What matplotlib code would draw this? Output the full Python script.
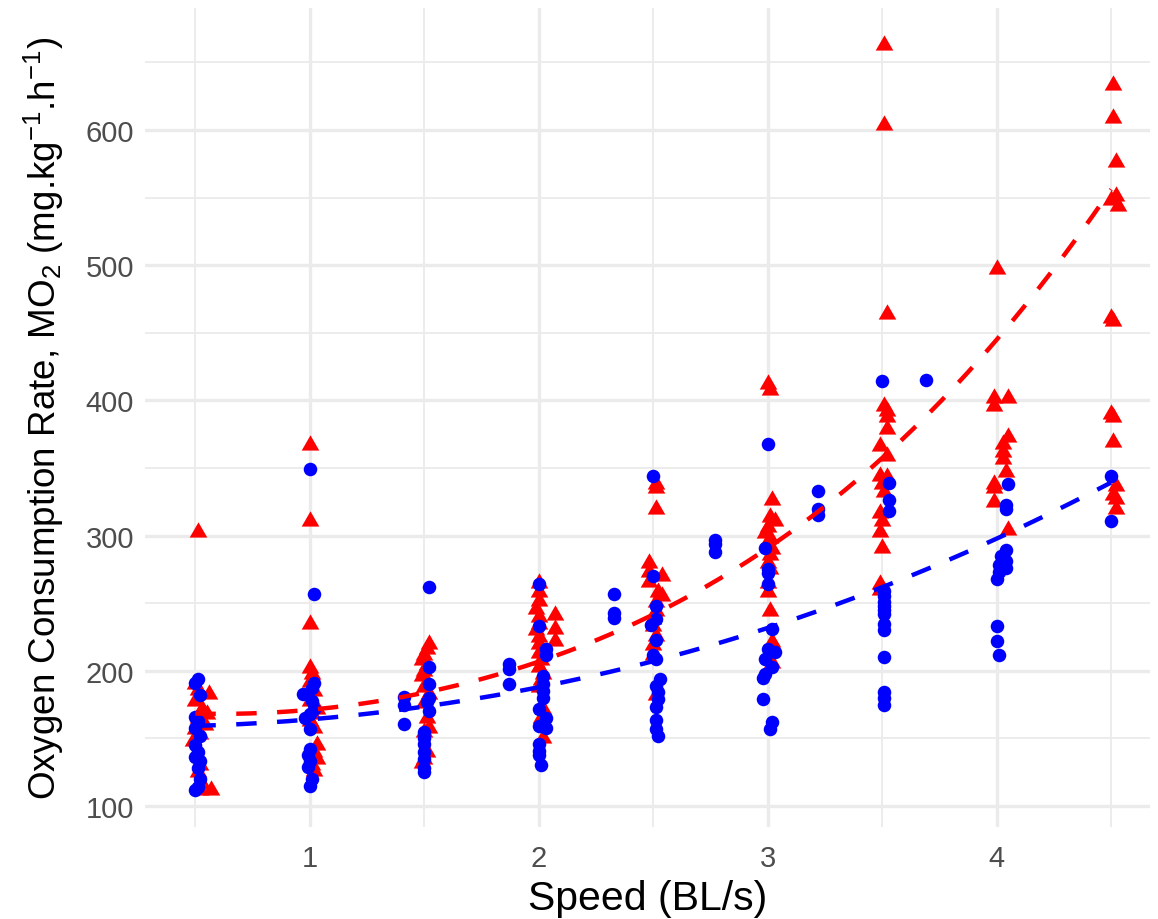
import numpy as np
import matplotlib
matplotlib.use("Agg")
import matplotlib.pyplot as plt
from matplotlib.ticker import FixedLocator

# ---------------- data ----------------
red_speed = [0.51, 0.50, 0.51, 0.56, 0.50, 0.53, 0.55, 0.51, 0.54, 0.50, 0.52, 0.49, 0.52, 0.51, 0.53, 0.52, 0.57,
             1.00, 1.00, 1.00, 1.00, 1.01, 1.00, 1.02, 1.00, 1.03, 1.01, 1.00, 1.02, 1.03, 1.02, 1.03, 1.01, 1.02,
             1.52, 1.51, 1.50, 1.49, 1.51, 1.50, 1.49, 1.51, 1.50, 1.52, 1.50, 1.51, 1.52, 1.50, 1.51, 1.50, 1.49,
             2.00, 2.00, 2.00, 1.99, 2.00, 2.00, 1.99, 2.00, 2.00, 2.00, 2.01, 2.00, 2.02, 2.01, 2.00, 2.02, 2.01,
             2.02, 2.02, 2.07, 2.07, 2.07,
             2.51, 2.51, 2.51, 2.48, 2.48, 2.48, 2.54, 2.52, 2.54, 2.51, 2.51, 2.50, 2.50, 2.51, 2.50, 2.50, 2.51,
             3.00, 3.01, 3.02, 3.01, 3.03, 3.00, 2.99, 3.01, 3.00, 3.02, 3.01, 3.00, 3.01, 3.00, 3.00, 3.01, 3.02,
             3.02,
             3.51, 3.51, 3.52, 3.51, 3.52, 3.52, 3.52, 3.49, 3.52, 3.49, 3.52, 3.50, 3.51, 3.49, 3.50, 3.49, 3.50,
             3.49, 3.49,
             4.00, 3.99, 4.05, 3.99, 4.05, 4.03, 4.03, 4.03, 4.04, 3.99, 3.99, 3.99, 4.05,
             4.51, 4.51, 4.52, 4.52, 4.50, 4.53, 4.50, 4.51, 4.50, 4.51, 4.51, 4.52, 4.51, 4.52, 4.52]
red_mo2 = [303, 190, 186, 183, 178, 172, 168, 165, 160, 157, 153, 148, 130, 125, 116, 112, 112,
           367, 311, 235, 202, 198, 192, 185, 178, 172, 168, 163, 158, 145, 140, 135, 130, 126,
           220, 216, 212, 208, 204, 200, 196, 192, 188, 183, 176, 165, 158, 155, 140, 135, 132,
           265, 258, 252, 246, 240, 235, 230, 225, 220, 213, 208, 203, 198, 193, 188, 172, 165,
           160, 150, 241, 231, 222,
           338, 335, 320, 280, 273, 266, 270, 258, 255, 251, 244, 238, 233, 226, 219, 212, 182,
           412, 408, 326, 314, 311, 306, 302, 298, 294, 290, 286, 280, 275, 265, 258, 244, 221,
           206,
           663, 604, 464, 396, 392, 388, 379, 366, 359, 344, 343, 338, 332, 317, 311, 303, 291,
           264, 260,
           497, 402, 402, 396, 373, 368, 362, 357, 347, 338, 335, 325, 304,
           633, 609, 576, 551, 548, 544, 461, 459, 390, 388, 369, 337, 330, 327, 320]

blue_speed = [0.51, 0.50, 0.52, 0.50, 0.51, 0.50, 0.52, 0.50, 0.51, 0.50, 0.52, 0.51, 0.52, 0.51, 0.50,
              1.00, 1.02, 1.02, 1.01, 0.97, 1.01, 1.02, 1.00, 0.98, 1.00, 1.00, 0.99, 1.00, 0.99, 1.01, 1.00,
              1.41, 1.41, 1.41,
              1.52, 1.52, 1.52, 1.52, 1.51, 1.52, 1.50, 1.50, 1.50, 1.50, 1.50, 1.50, 1.50,
              1.87, 1.87, 1.87,
              2.00, 2.00, 2.03, 2.03, 2.02, 2.02, 2.02, 2.02, 2.00, 2.03, 2.00, 2.03, 2.00, 2.00, 2.00, 2.01,
              2.33, 2.33, 2.33,
              2.50, 2.50, 2.51, 2.51, 2.49, 2.51, 2.50, 2.51, 2.53, 2.51, 2.52, 2.52, 2.51, 2.51, 2.51, 2.52,
              2.77, 2.77, 2.77,
              3.00, 2.99, 3.00, 3.00, 3.00, 3.02, 3.00, 3.03, 2.99, 3.02, 2.99, 2.98, 2.98, 3.02, 3.01,
              3.22, 3.22, 3.22,
              3.50, 3.53, 3.53, 3.53, 3.51, 3.51, 3.51, 3.51, 3.51, 3.51, 3.51, 3.51, 3.51, 3.51, 3.51, 3.51,
              3.69,
              4.05, 4.04, 4.04, 4.04, 4.02, 4.04, 4.01, 4.04, 4.01, 4.00, 4.00, 4.00, 4.01,
              4.50, 4.50]
blue_mo2 = [194, 191, 182, 166, 163, 158, 152, 145, 140, 136, 133, 128, 120, 114, 112,
            349, 257, 191, 187, 183, 178, 172, 168, 165, 157, 142, 138, 133, 129, 120, 115,
            181, 175, 161,
            262, 203, 190, 180, 177, 170, 155, 150, 146, 140, 135, 128, 125,
            205, 201, 190,
            264, 233, 216, 212, 196, 190, 185, 180, 172, 165, 159, 158, 146, 141, 138, 130,
            257, 243, 239,
            344, 270, 248, 238, 234, 223, 212, 209, 194, 189, 184, 179, 173, 164, 157, 152,
            297, 294, 288,
            368, 291, 275, 272, 264, 231, 216, 214, 209, 203, 198, 195, 179, 162, 157,
            333, 320, 315,
            414, 339, 326, 318, 259, 255, 251, 248, 245, 242, 235, 230, 210, 184, 180, 175,
            415,
            338, 323, 320, 289, 285, 281, 278, 276, 273, 268, 233, 222, 212,
            344, 311]

# fitted trend values
fit_speed = [0.5, 1.0, 1.5, 2.0, 2.5, 3.0, 3.5, 4.0, 4.5]
red_fit = [167, 174, 184, 205, 241, 289, 360, 448, 553]
blue_fit = [159, 164.5, 174, 187, 207, 232, 262, 298, 339]

x_major = [1, 2, 3, 4]
x_minor = [0.5, 1.5, 2.5, 3.5, 4.5]
y_major = [100, 200, 300, 400, 500, 600]
y_minor = [150, 250, 350, 450, 550, 650]

# ---------------- style ----------------
plt.rcParams['font.family'] = ['Liberation Sans', 'DejaVu Sans']
plt.rcParams['mathtext.fontset'] = 'custom'
plt.rcParams['mathtext.rm'] = 'Liberation Sans'
plt.rcParams['mathtext.it'] = 'Liberation Sans:italic'
plt.rcParams['mathtext.bf'] = 'Liberation Sans:bold'

W, H = 1158, 920
fig = plt.figure(figsize=(W / 100, H / 100), dpi=100)
ax = fig.add_axes([145 / W, 1 - 828 / H, (1150 - 145) / W, (828 - 8.6) / H])

ax.set_xlim(0.28, 4.67)
ax.set_ylim(84.5, 690.5)
for s in ax.spines.values():
    s.set_visible(False)

ax.xaxis.set_major_locator(FixedLocator(x_major))
ax.xaxis.set_minor_locator(FixedLocator(x_minor))
ax.yaxis.set_major_locator(FixedLocator(y_major))
ax.yaxis.set_minor_locator(FixedLocator(y_minor))
ax.grid(which='major', color='#EBEBEB', linewidth=2.4, zorder=0)
ax.grid(which='minor', color='#EBEBEB', linewidth=1.3, zorder=0)
ax.set_axisbelow(True)
ax.tick_params(which='both', length=0)
ax.tick_params(axis='both', which='major', labelsize=21, labelcolor='#4D4D4D')
ax.tick_params(axis='x', pad=12)
ax.tick_params(axis='y', pad=8)

tri = [(0, 1.0), (-0.866, -0.5), (0.866, -0.5)]
ax.scatter(red_speed, red_mo2, marker=tri, s=215, color='#FF0000', linewidths=0, zorder=3)
ax.scatter(blue_speed, blue_mo2, marker='o', s=95, color='#0000FF', linewidths=0, zorder=3)

xs = np.linspace(fit_speed[0], fit_speed[-1], 200)
for vals, col in ((red_fit, '#FF0000'), (blue_fit, '#0000FF')):
    coef = np.polyfit(fit_speed, np.log(vals), 3)
    ax.plot(xs, np.exp(np.polyval(coef, xs)), color=col, linewidth=3.2,
            dashes=(4.6, 4.6), dash_capstyle='butt', zorder=4)

ax.set_xlabel('Speed (BL/s)', fontsize=29.5, color='black', labelpad=5)
ax.set_ylabel(r'Oxygen Consumption Rate, MO$_2$ (mg.kg$^{-1}$.h$^{-1}$)', fontsize=26.5,
              color='black', labelpad=14)

fig.savefig('out.png', dpi=100, facecolor='white')
